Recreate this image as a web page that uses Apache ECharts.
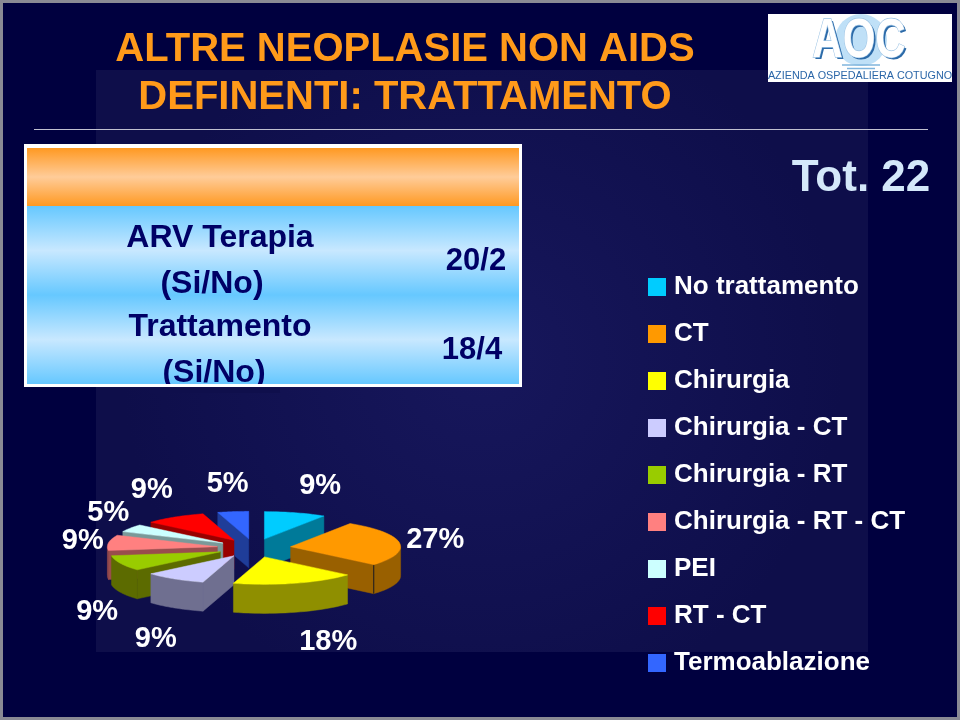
<!DOCTYPE html>
<html><head><meta charset="utf-8">
<style>html,body{margin:0;padding:0;background:#000040}#c{width:960px;height:720px}</style>
<script src="https://cdn.jsdelivr.net/npm/echarts@6/dist/echarts.min.js"></script>
</head><body><div id="c"></div>
<script>
var categories = ['No trattamento','CT','Chirurgia','Chirurgia - CT','Chirurgia - RT','Chirurgia - RT - CT','PEI','RT - CT','Termoablazione'];
var counts = [2,6,4,2,2,2,1,2,1];
var topColors = ['#00ccff','#ff9900','#ffff00','#ccccff','#99cc00','#ff8080','#ccffff','#ff0000','#3366ff'];
var sideColors = ['#007a99','#996000','#8f8f00','#6f6f90','#5c6b00','#994d4d','#7a9999','#990000','#1f3d99'];
var tableLeft = ['ARV Terapia','(Si/No)','Trattamento','(Si/No)'];
var tableRight = ['20/2','18/4'];
var titleLines = ['ALTRE NEOPLASIE NON AIDS','DEFINENTI: TRATTAMENTO'];
var totalLabel = 'Tot. 22';

var FONT = '"Liberation Sans", Arial, sans-serif';
var CX = 254, CY = 548, R = 110, TILT = 0.25, EXPLODE = 37, DEPTH = 29;
var LABEL_RX = 178, LABEL_RY = 80, LABEL_CY = 558;
var labelNudge = [[16,5],[5,-7],[24,7],[-2,14],[5,21],[5,-6],[4,-2],[-6,-1],[-1,5]];
var total = counts.reduce(function(a,b){return a+b;},0);
var starts = [], cum = 0;
counts.forEach(function(v){ starts.push(cum/total*2*Math.PI); cum += v; });

function makeItem(i){
  return function(params, api){
    var v = api.value(0);
    var a0 = starts[i], a1 = a0 + v/total*2*Math.PI, mid = (a0+a1)/2;
    var ax = CX + EXPLODE*Math.sin(mid), ay = CY - EXPLODE*TILT*Math.cos(mid);
    function rim(a,d){ return [ax + R*Math.sin(a), ay - R*TILT*Math.cos(a) + (d||0)]; }
    var kids = [];
    function poly(points, fill){ kids.push({type:'polygon', shape:{points:points}, style:{fill:fill, stroke:fill, lineWidth:0.5}}); }
    if (Math.sin(a0) < 0) poly([[ax,ay],rim(a0),rim(a0,DEPTH),[ax,ay+DEPTH]], sideColors[i]);
    if (Math.sin(a1) > 0) poly([[ax,ay],rim(a1),rim(a1,DEPTH),[ax,ay+DEPTH]], sideColors[i]);
    var lo = Math.max(a0, Math.PI/2), hi = Math.min(a1, 1.5*Math.PI), n = 24, k;
    if (hi > lo) {
      var up = [], down = [];
      for (k=0;k<=n;k++){ var t = lo+(hi-lo)*k/n; up.push(rim(t)); down.unshift(rim(t,DEPTH)); }
      poly(up.concat(down), sideColors[i]);
    }
    if (categories[i] === 'CT') {
      var s = rim(a1), e = rim(a1,DEPTH);
      kids.push({type:'line', shape:{x1:s[0],y1:s[1],x2:e[0],y2:e[1]}, style:{stroke:'#1a1a20',lineWidth:1}});
    }
    var top = [[ax,ay]];
    for (k=0;k<=n;k++) top.push(rim(a0+(a1-a0)*k/n));
    poly(top, topColors[i]);
    kids.push({type:'text', style:{
      text: Math.round(v/total*100)+'%', x: CX + LABEL_RX*Math.sin(mid) + labelNudge[i][0],
      y: LABEL_CY - LABEL_RY*Math.cos(mid) + labelNudge[i][1],
      fill:'#ffffff', font:'bold 29px '+FONT, align:'center', verticalAlign:'middle'}});
    return {type:'group', children:kids};
  };
}
var order = categories.map(function(_,i){return i;}).sort(function(p,q){
  var mp = starts[p]+counts[p]/total*Math.PI, mq = starts[q]+counts[q]/total*Math.PI;
  return Math.cos(mq)-Math.cos(mp);
});
var series = order.map(function(i){
  return {type:'custom', name:categories[i], coordinateSystem:'none', silent:true,
    itemStyle:{color:topColors[i]}, data:[[counts[i]]], renderItem:makeItem(i), clip:false};
});

function txt(text,x,y,size,fill,align,weight,z){
  return {type:'text', z:z||5, style:{text:text,x:x,y:y,fill:fill,font:(weight||'bold')+' '+size+'px '+FONT,align:align||'center',verticalAlign:'middle'}};
}
function vgrad(stops){ return {type:'linear',x:0,y:0,x2:0,y2:1,colorStops:stops}; }
var blueBand = [{offset:0,color:'#66c8ff'},{offset:0.5,color:'#c8e8ff'},{offset:1,color:'#66c8ff'}];
var graphics = [
  {type:'rect', z:-3, shape:{x:0,y:0,width:960,height:720}, style:{fill:'#8a8a94'}},
  {type:'rect', z:-3, shape:{x:3,y:3,width:954,height:714}, style:{fill:'#00003f'}},
  {type:'rect', z:-2, shape:{x:96,y:70,width:772,height:582}, style:{fill:{type:'radial',x:0.5,y:0.5,r:0.62,colorStops:[{offset:0,color:'#17175c'},{offset:1,color:'#0e0e4a'}]}}},
  {type:'line', z:0, shape:{x1:34,y1:129.5,x2:928,y2:129.5}, style:{stroke:'#c0c0d0',lineWidth:1}},
  {type:'rect', z:1, shape:{x:24,y:144,width:498,height:243}, style:{fill:'#ffffff'}},
  {type:'rect', z:1, shape:{x:27,y:148,width:492,height:58}, style:{fill:vgrad([{offset:0,color:'#ff9922'},{offset:0.5,color:'#ffcc99'},{offset:1,color:'#ff9922'}])}},
  {type:'rect', z:1, shape:{x:27,y:206,width:492,height:89}, style:{fill:vgrad(blueBand)}},
  {type:'rect', z:1, shape:{x:27,y:295,width:492,height:89}, style:{fill:vgrad(blueBand)}},
  txt(tableLeft[0],220,238,32,'#000066'),
  txt(tableLeft[1],212,284,32,'#000066'),
  txt(tableLeft[2],220,327,32,'#000066'),
  txt(tableLeft[3],214,373,32,'#000066'),
  txt(tableRight[0],476,261,31,'#000066'),
  txt(tableRight[1],472,350,31,'#000066'),
  {type:'rect', z:6, shape:{x:24,y:384,width:498,height:3}, style:{fill:'#ffffff'}},
  {type:'rect', z:6, shape:{x:150,y:387,width:130,height:6}, style:{fill:'#0f0f4c'}},
  txt(titleLines[0],405,50,40,'#ff9a1a'),
  txt(titleLines[1],405,98,40,'#ff9a1a'),
  txt(totalLabel,861,179,44,'#d4e8fa'),
  {type:'rect', z:1, shape:{x:768,y:14,width:184,height:68}, style:{fill:'#ffffff'}},
  {type:'circle', z:2, shape:{cx:861,cy:40,r:26}, style:{fill:'#bfe0f7'}},
  {type:'text', z:3, x:861, y:44, scaleY:1.3, style:{text:'AOC',fill:'#2c6aa8',font:'bold 42px '+FONT,align:'center',verticalAlign:'middle'}},
  {type:'text', z:3, x:859, y:42, scaleY:1.3, style:{text:'AOC',fill:'#ffffff',stroke:'#9cc3e4',lineWidth:1,font:'bold 42px '+FONT,align:'center',verticalAlign:'middle'}},
  {type:'line', z:3, shape:{x1:842,y1:65,x2:880,y2:65}, style:{stroke:'#7fb4dd',lineWidth:1.5}},
  {type:'line', z:3, shape:{x1:847,y1:68.5,x2:875,y2:68.5}, style:{stroke:'#7fb4dd',lineWidth:1.5}},
  txt('AZIENDA OSPEDALIERA COTUGNO',860,76,10.8,'#2a66a8','center','normal',3)
];
var chart = echarts.init(document.getElementById('c'), null, {renderer:'canvas'});
chart.setOption({
  animation:false,
  graphic:graphics,
  legend:{show:true, orient:'vertical', left:643, top:267, icon:'rect', itemWidth:18, itemHeight:18, itemGap:17,
    selectedMode:false, data:categories,
    textStyle:{color:'#ffffff', fontFamily:FONT, fontWeight:'bold', fontSize:26, padding:[0,0,0,3], lineHeight:30}},
  series:series
});
</script></body></html>
